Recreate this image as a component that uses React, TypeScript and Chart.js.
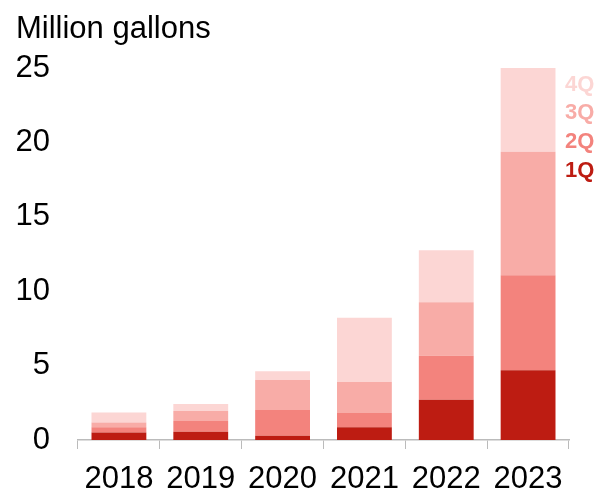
import React, { useEffect, useRef } from "react";
import { Chart, registerables } from "chart.js";

Chart.register(...registerables);

const categories = ["2018", "2019", "2020", "2021", "2022", "2023"];
const q1 = [0.5, 0.56, 0.29, 0.85, 2.71, 4.68];
const q2 = [0.36, 0.72, 1.73, 0.96, 2.96, 6.39];
const q3 = [0.31, 0.67, 2.01, 2.09, 3.58, 8.31];
const q4 = [0.67, 0.47, 0.59, 4.32, 3.5, 5.78];
const seriesLabels = ["1Q", "2Q", "3Q", "4Q"];
const seriesColors = ["#BD1C12", "#F3837D", "#F8ACA7", "#FCD6D4"];
const yTitle = "Million gallons";
const yMax = 25;
const yStep = 5;

const FONT = "'Liberation Sans', Arial, sans-serif";

const overlayPlugin = {
  id: "overlayText",
  afterDraw(chart: any) {
    const ctx = chart.ctx;
    ctx.save();
    ctx.fillStyle = "#000";
    ctx.font = `31px ${FONT}`;
    ctx.textBaseline = "alphabetic";
    ctx.textAlign = "left";
    ctx.fillText(yTitle, 16, 38);
    ctx.font = `bold 22px ${FONT}`;
    const x = 565;
    const ys = [171, 142, 113, 85];
    for (let i = 0; i < seriesLabels.length; i++) {
      ctx.fillStyle = seriesColors[i];
      ctx.textBaseline = "middle";
      ctx.fillText(seriesLabels[i], x, ys[i]);
    }
    ctx.restore();
  },
};

export default function App() {
  const ref = useRef<HTMLCanvasElement | null>(null);
  useEffect(() => {
    if (!ref.current) return;
    const data = [q1, q2, q3, q4];
    const chart = new Chart(ref.current, {
      type: "bar",
      data: {
        labels: categories,
        datasets: seriesLabels.map((l, i) => ({
          label: l,
          data: data[i],
          backgroundColor: seriesColors[i],
          borderWidth: 0,
          categoryPercentage: 1,
          barPercentage: 0.67,
        })),
      },
      options: {
        responsive: false,
        animation: false,
        maintainAspectRatio: false,
        layout: { padding: { left: 15, right: 26, top: 68, bottom: 0 } },
        plugins: {
          legend: { display: false },
          tooltip: { enabled: false },
          title: { display: false },
        },
        scales: {
          x: {
            stacked: true,
            afterFit: (axis: any) => {
              axis.height = 51;
            },
            grid: {
              display: true,
              drawOnChartArea: false,
              drawTicks: true,
              tickLength: 9,
              color: "#BBBBBB",
              offset: true,
            },
            border: { display: true, color: "#BBBBBB", width: 1.5 },
            ticks: {
              color: "#000",
              font: { family: FONT, size: 31, lineHeight: 1 },
              padding: 15,
              maxRotation: 0,
            },
          },
          y: {
            stacked: true,
            min: 0,
            max: yMax,
            afterFit: (axis: any) => {
              axis.width = 63;
            },
            grid: { display: false },
            border: { display: false },
            ticks: {
              stepSize: yStep,
              color: "#000",
              font: { family: FONT, size: 31 },
              padding: 20,
            },
          },
        },
      },
      plugins: [overlayPlugin],
    });
    return () => chart.destroy();
  }, []);
  return (
    <div style={{ position: "fixed", left: 0, top: 0, width: 595, height: 491, background: "#fff" }}>
      <canvas ref={ref} width={595} height={491} style={{ width: 595, height: 491 }} />
    </div>
  );
}
